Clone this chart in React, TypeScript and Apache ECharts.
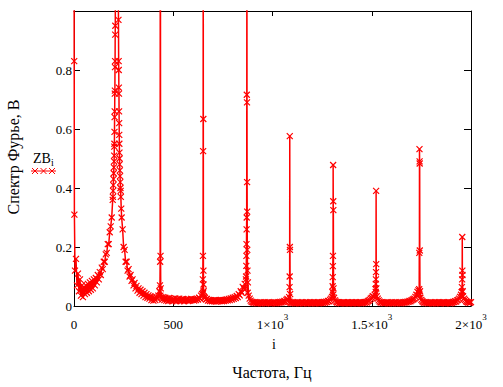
import React, { useEffect, useRef } from "react";
import * as echarts from "echarts";

// ---- data ----
// Spectrum sampled every STEP_HZ Hz from 0 to 2000 Hz (values in V)
const STEP_HZ = 5;
const spectrumValues: number[] = [
  // 0 - 95
  1.6, 0.12, 0.16, 0.07, 0.11, 0.05, 0.09, 0.035, 0.07, 0.03, 0.065, 0.04, 0.07, 0.045, 0.075, 0.05, 0.08, 0.055, 0.085, 0.06,
  // 100 - 195
  0.09, 0.07, 0.095, 0.08, 0.105, 0.09, 0.115, 0.105, 0.13, 0.125, 0.15, 0.15, 0.175, 0.18, 0.21, 0.21, 0.25, 0.27, 0.3, 0.36,
  // 200 - 295
  0.45, 0.66, 1.5, 1.9, 1.5, 0.83, 0.48, 0.39, 0.3, 0.26, 0.2, 0.19, 0.15, 0.15, 0.12, 0.125, 0.1, 0.105, 0.085, 0.09,
  // 300 - 395
  0.07, 0.078, 0.06, 0.068, 0.052, 0.06, 0.045, 0.055, 0.04, 0.05, 0.035, 0.045, 0.03, 0.04, 0.028, 0.036, 0.025, 0.033, 0.02, 0.03,
  // 400 - 495
  0.018, 0.028, 0.02, 0.03, 0.025, 0.035, 0.05, 0.035, 0.03, 0.022, 0.03, 0.02, 0.028, 0.018, 0.026, 0.017, 0.027, 0.019, 0.025, 0.016,
  // 500 - 595
  0.024, 0.018, 0.026, 0.016, 0.023, 0.019, 0.025, 0.017, 0.022, 0.018, 0.024, 0.016, 0.021, 0.019, 0.023, 0.017, 0.022, 0.018, 0.024, 0.02,
  // 600 - 695
  0.022, 0.018, 0.023, 0.02, 0.025, 0.022, 0.028, 0.025, 0.035, 0.04, 0.045, 0.03, 0.028, 0.022, 0.024, 0.018, 0.021, 0.017, 0.02, 0.016,
  // 700 - 795
  0.019, 0.016, 0.02, 0.015, 0.019, 0.016, 0.02, 0.017, 0.021, 0.016, 0.02, 0.017, 0.021, 0.018, 0.022, 0.019, 0.024, 0.02, 0.026, 0.022,
  // 800 - 895
  0.028, 0.024, 0.03, 0.027, 0.034, 0.03, 0.04, 0.036, 0.05, 0.045, 0.065, 0.06, 0.075, 0.06, 0.3, 0.045, 0.035, 0.025, 0.018, 0.014,
  // 900 - 995
  0.013, 0.011, 0.013, 0.01, 0.012, 0.009, 0.012, 0.01, 0.013, 0.009, 0.012, 0.01, 0.013, 0.009, 0.012, 0.011, 0.013, 0.01, 0.012, 0.009,
  // 1000 - 1095
  0.012, 0.01, 0.013, 0.009, 0.012, 0.01, 0.013, 0.011, 0.014, 0.012, 0.015, 0.013, 0.017, 0.015, 0.021, 0.024, 0.019, 0.015, 0.012, 0.01,
  // 1100 - 1195
  0.013, 0.01, 0.012, 0.009, 0.012, 0.01, 0.013, 0.009, 0.012, 0.01, 0.013, 0.009, 0.011, 0.01, 0.013, 0.009, 0.012, 0.01, 0.013, 0.009,
  // 1200 - 1295
  0.012, 0.01, 0.013, 0.009, 0.012, 0.01, 0.013, 0.009, 0.012, 0.01, 0.013, 0.01, 0.014, 0.011, 0.015, 0.013, 0.017, 0.016, 0.021, 0.025,
  // 1300 - 1395
  0.031, 0.038, 0.028, 0.019, 0.015, 0.012, 0.013, 0.01, 0.012, 0.009, 0.012, 0.01, 0.013, 0.009, 0.012, 0.01, 0.013, 0.009, 0.012, 0.01,
  // 1400 - 1495
  0.013, 0.009, 0.012, 0.01, 0.013, 0.009, 0.012, 0.01, 0.013, 0.009, 0.012, 0.01, 0.013, 0.011, 0.014, 0.012, 0.016, 0.018, 0.021, 0.025,
  // 1500 - 1595
  0.028, 0.033, 0.031, 0.038, 0.048, 0.033, 0.025, 0.019, 0.015, 0.012, 0.013, 0.01, 0.012, 0.009, 0.012, 0.01, 0.013, 0.009, 0.012, 0.01,
  // 1600 - 1695
  0.013, 0.009, 0.012, 0.01, 0.013, 0.009, 0.012, 0.01, 0.013, 0.009, 0.012, 0.01, 0.013, 0.011, 0.014, 0.012, 0.015, 0.014, 0.017, 0.016,
  // 1700 - 1795
  0.019, 0.021, 0.023, 0.025, 0.031, 0.038, 0.048, 0.053, 0.038, 0.028, 0.021, 0.016, 0.013, 0.011, 0.013, 0.01, 0.012, 0.009, 0.012, 0.01,
  // 1800 - 1895
  0.013, 0.009, 0.012, 0.01, 0.013, 0.009, 0.012, 0.01, 0.013, 0.009, 0.012, 0.011, 0.013, 0.01, 0.012, 0.009, 0.012, 0.01, 0.013, 0.009,
  // 1900 - 1995
  0.012, 0.011, 0.014, 0.013, 0.016, 0.015, 0.019, 0.021, 0.025, 0.031, 0.038, 0.048, 0.033, 0.025, 0.021, 0.016, 0.014, 0.012, 0.013, 0.011,
  // 2000
  0.013,
];

// Finer samples around the spectral peaks: [frequency Hz, value V]
const dcDetail: [number, number][] = [[1, 0.83], [2, 0.31]];
const resonanceDetail: [number, number][] = [
  [196, 0.37], [197, 0.39], [198, 0.41], [199, 0.43], [201, 0.47], [202, 0.49], [202.5, 0.51],
  [203, 0.54], [203.5, 0.55], [204, 0.59], [204.5, 0.64], [205.5, 0.72], [206, 0.73], [206.5, 0.81],
  [207, 0.83], [207.5, 0.92], [208, 0.95], [213, 1.8], [224, 0.97], [225.5, 0.8], [226, 0.74],
  [226.5, 0.72], [227, 0.66], [227.5, 0.62], [228, 0.58], [228.5, 0.55], [229, 0.52], [229.5, 0.5],
  [231, 0.46], [232, 0.44], [233, 0.42], [234, 0.4], [236, 0.37], [238, 0.33],
];
const peak435: [number, number][] = [[433, 0.07], [434, 0.15], [434.5, 1.4], [435.5, 1.5], [436, 0.17], [437, 0.06]];
const peak651: [number, number][] = [
  [648, 0.04], [649, 0.09], [649.5, 0.17], [650.5, 0.525], [651, 1.6], [651.5, 0.634], [652, 0.12], [652.5, 0.073], [653, 0.05],
];
const peak870: [number, number][] = [
  [866, 0.09], [867, 0.1], [868, 0.136], [868.5, 0.17], [869, 0.21], [869.5, 0.26], [870.5, 0.716],
  [871, 1.7], [871.5, 0.69], [872, 0.42], [872.5, 0.32], [873, 0.19], [874, 0.12], [876, 0.08],
];
const peak1087: [number, number][] = [[1084, 0.03], [1086, 0.064], [1086.5, 0.1], [1087, 0.576], [1087.5, 0.2], [1088, 0.19], [1089, 0.04]];
const peak1305: [number, number][] = [
  [1302, 0.047], [1303, 0.067], [1303.5, 0.098], [1304, 0.135], [1304.5, 0.17], [1305.5, 0.478], [1306, 0.355], [1306.5, 0.325], [1307.5, 0.06],
];
const peak1522: [number, number][] = [[1519, 0.057], [1520.5, 0.075], [1521, 0.09], [1521.5, 0.115], [1522, 0.39], [1522.5, 0.142], [1523, 0.06]];
const peak1740: [number, number][] = [[1738, 0.044], [1739, 0.057], [1739.5, 0.18], [1740.5, 0.532], [1741, 0.49], [1741.5, 0.483], [1742, 0.188], [1743, 0.05]];
const peak1956: [number, number][] = [[1953.5, 0.047], [1954, 0.064], [1955.5, 0.09], [1956, 0.234], [1956.5, 0.12], [1957, 0.105], [1958, 0.05]];

// Tick labels
const xTickValues = [0, 500, 1000, 1500, 2000];
const xTickBase = ["0", "500", "1×10", "1.5×10", "2×10"];
const xTickSup = ["", "", "3", "3", "3"];
const yTickValues = [0, 0.2, 0.4, 0.6, 0.8, 1];
const yTickLabels = ["0", "0.2", "0.4", "0.6", "0.8", ""];

const SERIF = "Times New Roman, Liberation Serif, DejaVu Serif, serif";
const RED = "#ff0000";
const CROSS = "path://M0 0L6 6M6 0L0 6";

export default function App() {
  const ref = useRef<HTMLDivElement>(null);

  useEffect(() => {
    if (!ref.current) return;
    const chart = echarts.init(ref.current, undefined, { renderer: "svg" });

    const gridPoints: [number, number][] = spectrumValues.map((v, i) => [i * STEP_HZ, v]);
    const seriesData = [
      ...gridPoints,
      ...dcDetail,
      ...resonanceDetail,
      ...peak435,
      ...peak651,
      ...peak870,
      ...peak1087,
      ...peak1305,
      ...peak1522,
      ...peak1740,
      ...peak1956,
    ].sort((a, b) => a[0] - b[0]);

    const legendCrossX = [35, 43.5, 52];
    const legendCross: any[] = [];
    legendCrossX.forEach((cx) => {
      legendCross.push({ type: "line", shape: { x1: cx - 3, y1: 168, x2: cx + 3, y2: 174 }, style: { stroke: RED, lineWidth: 1 } });
      legendCross.push({ type: "line", shape: { x1: cx - 3, y1: 174, x2: cx + 3, y2: 168 }, style: { stroke: RED, lineWidth: 1 } });
    });

    const axisLineStyle = { lineStyle: { color: "#000", width: 1 } };

    chart.setOption({
      animation: false,
      backgroundColor: "#fff",
      textStyle: { fontFamily: SERIF },
      grid: { left: 74, top: 11, width: 397, height: 295, containLabel: false },
      xAxis: [
        {
          type: "value",
          position: "bottom",
          min: 0,
          max: 2000,
          interval: 500,
          axisLine: { show: true, onZero: false, ...axisLineStyle },
          axisTick: { show: true, inside: true, length: 5, lineStyle: { color: "#000" } },
          splitLine: { show: false },
          axisLabel: {
            margin: 6,
            fontFamily: SERIF,
            formatter: (v: number) => {
              const i = xTickValues.indexOf(v);
              if (i < 0) return "";
              return xTickSup[i] ? `{n|${xTickBase[i]}}{s|${xTickSup[i]}}` : `{n|${xTickBase[i]}}`;
            },
            rich: {
              n: { fontFamily: SERIF, fontSize: 13, lineHeight: 24, color: "#000" },
              s: { fontFamily: SERIF, fontSize: 9, verticalAlign: "top", color: "#000" },
            },
          },
        },
        {
          type: "value",
          position: "top",
          min: 0,
          max: 2000,
          interval: 500,
          axisLine: { show: true, onZero: false, ...axisLineStyle },
          axisTick: { show: true, inside: true, length: 5, lineStyle: { color: "#000" } },
          splitLine: { show: false },
          axisLabel: { show: false },
        },
      ],
      yAxis: [
        {
          type: "value",
          position: "left",
          min: 0,
          max: 1,
          interval: 0.2,
          axisLine: { show: true, onZero: false, ...axisLineStyle },
          axisTick: { show: true, inside: true, length: 6, lineStyle: { color: "#000" } },
          splitLine: { show: false },
          axisLabel: {
            margin: 2,
            fontFamily: SERIF,
            fontSize: 13,
            color: "#000",
            formatter: (v: number) => {
              const i = yTickValues.findIndex((t) => Math.abs(t - v) < 1e-9);
              return i < 0 ? "" : yTickLabels[i];
            },
          },
        },
        {
          type: "value",
          position: "right",
          min: 0,
          max: 1,
          interval: 0.2,
          axisLine: { show: true, onZero: false, ...axisLineStyle },
          axisTick: { show: true, inside: true, length: 7, lineStyle: { color: "#000" } },
          splitLine: { show: false },
          axisLabel: { show: false },
        },
      ],
      series: [
        {
          type: "line",
          name: "ZBi",
          xAxisIndex: 0,
          yAxisIndex: 0,
          data: seriesData,
          clip: true,
          silent: true,
          showAllSymbol: true,
          symbol: CROSS,
          symbolSize: 6,
          itemStyle: { color: RED, borderColor: RED, borderWidth: 1.2 },
          lineStyle: { color: RED, width: 1.5 },
          emphasis: { disabled: true },
          z: 3,
        },
      ],
      graphic: [
        {
          type: "text",
          x: 13,
          y: 157,
          rotation: Math.PI / 2,
          style: { text: "Спектр Фурье, В", fontFamily: SERIF, fontSize: 16, fill: "#000", align: "center", verticalAlign: "middle" },
        },
        {
          type: "text",
          x: 272,
          y: 372,
          style: { text: "Частота, Гц", fontFamily: SERIF, fontSize: 16, fill: "#000", align: "center", verticalAlign: "middle" },
        },
        {
          type: "text",
          x: 274,
          y: 344,
          style: { text: "i", fontFamily: SERIF, fontSize: 14, fill: "#000", align: "center", verticalAlign: "middle" },
        },
        {
          type: "text",
          x: 33,
          y: 158,
          style: {
            text: "{a|ZB}{b|i}",
            fill: "#000",
            fontFamily: SERIF,
            align: "left",
            verticalAlign: "middle",
            rich: {
              a: { fontFamily: SERIF, fontSize: 14, lineHeight: 18, fill: "#000" },
              b: { fontFamily: SERIF, fontSize: 10, verticalAlign: "bottom", fill: "#000" },
            },
          },
        },
        { type: "line", shape: { x1: 31, y1: 171, x2: 56, y2: 171 }, style: { stroke: RED, lineWidth: 1 } },
        ...legendCross,
      ],
    });

    return () => chart.dispose();
  }, []);

  return <div ref={ref} style={{ width: 503, height: 387, position: "absolute", left: 0, top: 0 }} />;
}
